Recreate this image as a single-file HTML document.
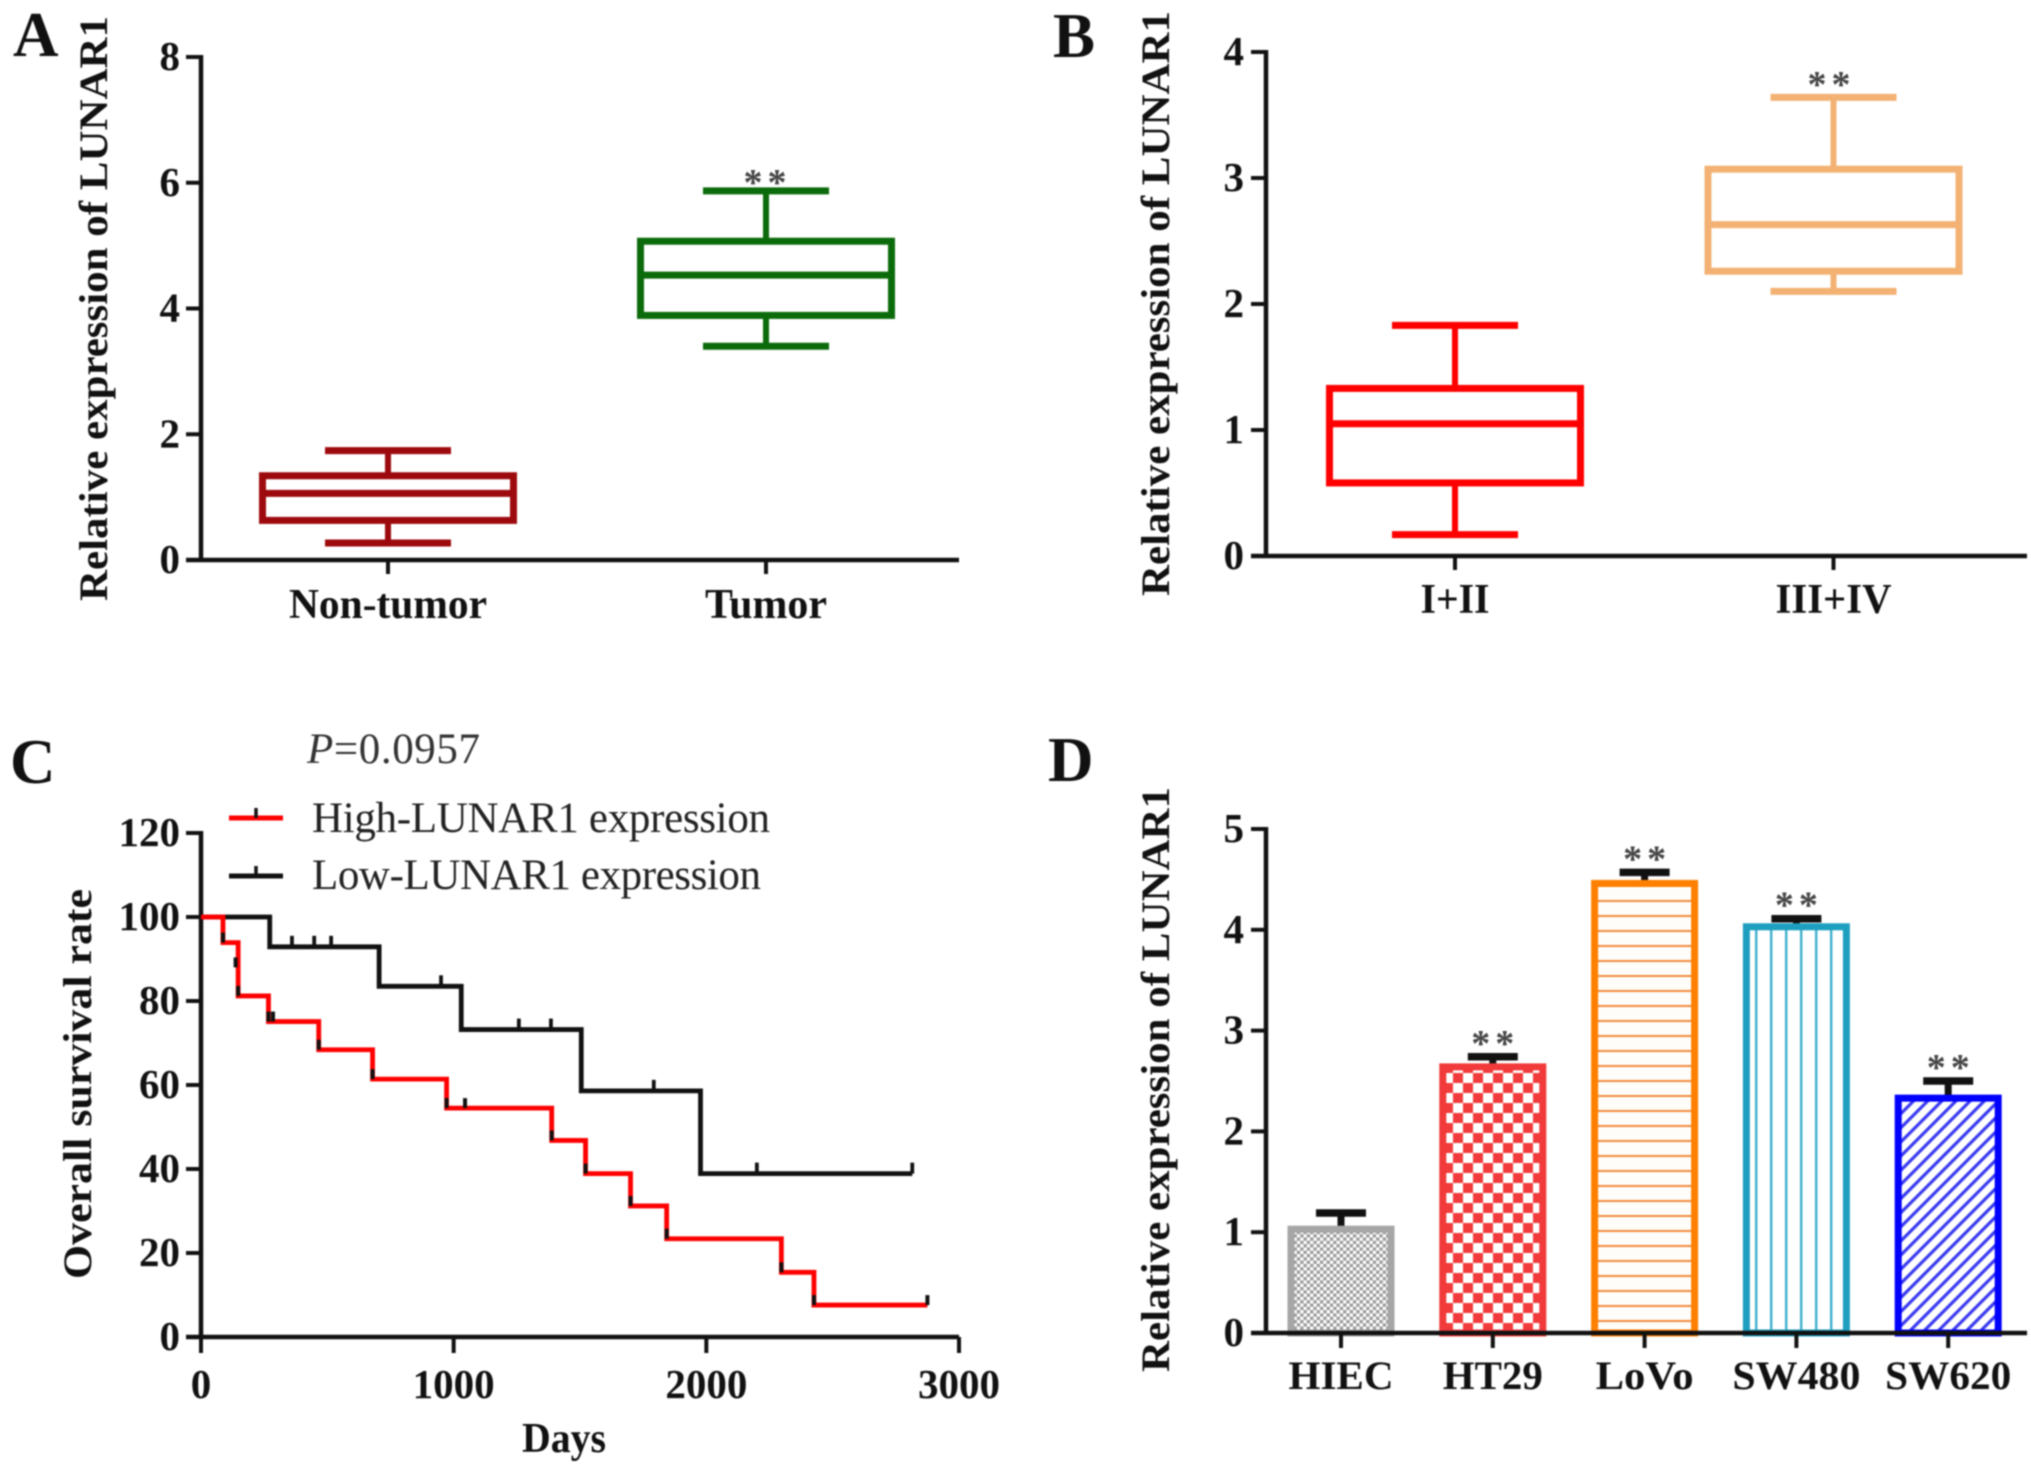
<!DOCTYPE html>
<html lang="en">
<head>
<meta charset="utf-8">
<title>LUNAR1 expression figure</title>
<style>
html,body{margin:0;padding:0;background:#fff;}
#figure{display:block;width:2031px;height:1469px;background:#fff;filter:blur(0.7px);}
text{font-family:"Liberation Serif",serif;fill:#111;}
</style>
</head>
<body>
<svg id="figure" xmlns="http://www.w3.org/2000/svg" width="2031" height="1469" viewBox="0 0 2031 1469">
  <defs>
    <pattern id="pat-dots" patternUnits="userSpaceOnUse" width="6.6" height="6.6">
      <rect width="6.6" height="6.6" fill="#fff"/>
      <rect width="3.3" height="3.3" fill="#9a9a9a"/>
      <rect x="3.3" y="3.3" width="3.3" height="3.3" fill="#9a9a9a"/>
    </pattern>
    <pattern id="pat-check" patternUnits="userSpaceOnUse" width="20" height="20" x="3" y="3">
      <rect width="20" height="20" fill="#fff"/>
      <rect width="10" height="10" fill="#f23a3a"/>
      <rect x="10" y="10" width="10" height="10" fill="#f23a3a"/>
    </pattern>
    <pattern id="pat-hlines" patternUnits="userSpaceOnUse" width="15" height="15">
      <rect width="15" height="15" fill="#fffdfa"/>
      <rect width="15" height="2" fill="#f08a3c"/>
    </pattern>
    <pattern id="pat-vlines" patternUnits="userSpaceOnUse" width="15" height="15">
      <rect width="15" height="15" fill="#fff"/>
      <rect width="2.4" height="15" fill="#3fb0cc"/>
    </pattern>
    <pattern id="pat-diag" patternUnits="userSpaceOnUse" width="10" height="10" patternTransform="rotate(45)">
      <rect width="10" height="10" fill="#fff"/>
      <rect width="3.2" height="10" fill="#3a3af0"/>
    </pattern>
  </defs>
  <rect width="2031" height="1469" fill="#fff"/>
  <g id="panel-a"></g>
  <g id="panel-b"></g>
  <g id="panel-c"></g>
  <g id="panel-d"></g>
</svg>
<script>
// Panel A data
const aCategories = ['Non-tumor', 'Tumor'];
const aWhiskerHigh = [1.74, 5.87];
const aQ3 = [1.34, 5.07];
const aMedian = [1.06, 4.53];
const aQ1 = [0.63, 3.89];
const aWhiskerLow = [0.27, 3.40];
const aTicks = [0, 2, 4, 6, 8];

// Panel B data
const bCategories = ['I+II', 'III+IV'];
const bWhiskerHigh = [1.83, 3.64];
const bQ3 = [1.33, 3.07];
const bMedian = [1.05, 2.63];
const bQ1 = [0.58, 2.26];
const bWhiskerLow = [0.17, 2.10];
const bTicks = [0, 1, 2, 3, 4];

// Panel C data
const cHighDropDays = [87, 147, 267, 466, 679, 972, 1388, 1522, 1700, 1843, 2297, 2426];
const cHighLevels = [100, 93.9, 81.2, 75.1, 68.4, 61.4, 54.5, 46.8, 38.9, 31.2, 23.4, 15.4, 7.6];
const cHighEndDay = 2875;
const cHighCensorDays = [87, 137, 147, 267, 285, 466, 679, 972, 1045, 1388, 1522, 1700, 1843, 2297, 2426, 2875];
const cHighCensorLevels = [93.9, 88, 81.2, 75.1, 75.1, 68.4, 61.4, 54.5, 54.5, 46.8, 38.9, 31.2, 23.4, 15.4, 7.6, 7.6];
const cLowDropDays = [272, 705, 1030, 1505, 1977];
const cLowLevels = [100, 92.9, 83.5, 73.2, 58.6, 38.9];
const cLowEndDay = 2815;
const cLowCensorDays = [360, 448, 515, 950, 1258, 1385, 1792, 2200, 2815];
const cLowCensorLevels = [92.9, 92.9, 92.9, 83.5, 73.2, 73.2, 58.6, 38.9, 38.9];
const cYTicks = [0, 20, 40, 60, 80, 100, 120];
const cXTicks = [0, 1000, 2000, 3000];

// Panel D data
const dCategories = ['HIEC', 'HT29', 'LoVo', 'SW480', 'SW620'];
const dValues = [1.03, 2.64, 4.46, 4.03, 2.33];
const dErrorTops = [1.19, 2.74, 4.57, 4.11, 2.50];
const dTicks = [0, 1, 2, 3, 4, 5];
const dColors = ['#a6a6a6', '#f23a3a', '#ff8000', '#1e9fc0', '#0000ff'];
const dPatterns = ['pat-dots', 'pat-check', 'pat-hlines', 'pat-vlines', 'pat-diag'];

const NS = 'http://www.w3.org/2000/svg';
function svgEl(parent, tag, attrs) {
  const el = document.createElementNS(NS, tag);
  for (const k in attrs) el.setAttribute(k, attrs[k]);
  parent.appendChild(el);
  return el;
}
function linear(d0, d1, r0, r1) {
  return v => r0 + (v - d0) * (r1 - r0) / (d1 - d0);
}
function seg(parent, x1, y1, x2, y2, color, w) {
  return svgEl(parent, 'line', {x1, y1, x2, y2, stroke: color, 'stroke-width': w});
}
function txt(parent, x, y, str, size, opts) {
  const o = opts || {};
  const a = {x, y, 'font-size': size, 'font-weight': o.weight || 'bold'};
  if (o.anchor) a['text-anchor'] = o.anchor;
  if (o.len) { a.textLength = o.len; a.lengthAdjust = o.adjust || 'spacing'; }
  if (o.rotate) a.transform = 'rotate(-90 ' + x + ' ' + y + ')';
  if (o.fill) a.style = 'fill:' + o.fill;
  if (o.spacing) a['letter-spacing'] = o.spacing;
  const t = svgEl(parent, 'text', a);
  t.textContent = str;
  return t;
}
function drawYAxis(g, x, yScale, ticks, top, bottom, labelX, fontSize) {
  const axis = seg(g, x, top - 2, x, bottom + 2, '#111', 4.5);
  
  
  ticks.forEach(v => {
    const tk = seg(g, x - 15, yScale(v), x, yScale(v), '#111', 4);
    
    
    const lb = txt(g, labelX, yScale(v) + 13, String(v), fontSize, {anchor: 'end'});
    
    
  });
}
function drawTitleY(g, x, yBottom, str, len, size) {
  const t = txt(g, x, yBottom, str, size, {rotate: true, len: len, adjust: 'spacingAndGlyphs'});
  
  
}
function drawXBase(g, x0, x1, y) {
  const axis = seg(g, x0, y, x1, y, '#111', 4.5);
  
  
}
function drawLetter(g, x, y, str) {
  const t = txt(g, x, y, str, 63);
  
  
}
function drawStars(g, cx, y) {
  const t = txt(g, cx + 2.5, y, '**', 38, {anchor: 'middle', fill: '#444', spacing: '5px'});
  
  
}

function drawBoxes(g, opts) {
  const y = opts.yScale;
  opts.cats.forEach((c, i) => {
    const cx = opts.firstX + i * opts.step;
    const col = opts.colors[i];
    const box = svgEl(g, 'g', {});
    
    
    seg(box, cx, y(opts.hi[i]), cx, y(opts.q3[i]), col, 6);
    seg(box, cx, y(opts.q1[i]), cx, y(opts.lo[i]), col, 6);
    seg(box, cx - 63, y(opts.hi[i]), cx + 63, y(opts.hi[i]), col, 7);
    seg(box, cx - 63, y(opts.lo[i]), cx + 63, y(opts.lo[i]), col, 7);
    svgEl(box, 'rect', {x: cx - 125.5, y: y(opts.q3[i]), width: 251, height: y(opts.q1[i]) - y(opts.q3[i]), fill: 'none', stroke: col, 'stroke-width': 7});
    seg(box, cx - 125.5, y(opts.med[i]), cx + 125.5, y(opts.med[i]), col, 7);
    const tk = seg(g, cx, opts.baseY, cx, opts.baseY + 14, '#111', 4);
    
    
    const lb = txt(g, cx, opts.labelY, c, 42, {anchor: 'middle', len: opts.labelLens[i], adjust: 'spacingAndGlyphs'});
    
    
  });
}

// ---------- Panel A ----------
(function () {
  const g = document.getElementById('panel-a');
  const y = linear(0, 8, 560, 57);
  drawLetter(g, 13, 56, 'A');
  drawYAxis(g, 201, y, aTicks, 57, 560, 180, 41);
  drawXBase(g, 186, 959, 560);
  drawTitleY(g, 107, 601, 'Relative expression of LUNAR1', 585, 40);
  drawBoxes(g, {yScale: y, cats: aCategories, firstX: 388, step: 378, colors: ['#9c0a0e', '#0b6b0b'],
    hi: aWhiskerHigh, q3: aQ3, med: aMedian, q1: aQ1, lo: aWhiskerLow,
    baseY: 560, labelY: 618, labelLens: [198, 122]});
  drawStars(g, 765, 195);
})();

// ---------- Panel B ----------
(function () {
  const g = document.getElementById('panel-b');
  const y = linear(0, 4, 556, 52);
  drawLetter(g, 1053, 57, 'B');
  drawYAxis(g, 1266, y, bTicks, 52, 556, 1244, 41);
  drawXBase(g, 1251, 2027, 556);
  drawTitleY(g, 1169, 596, 'Relative expression of LUNAR1', 585, 40);
  drawBoxes(g, {yScale: y, cats: bCategories, firstX: 1455, step: 378.5, colors: ['#ff0000', '#f3b273'],
    hi: bWhiskerHigh, q3: bQ3, med: bMedian, q1: bQ1, lo: bWhiskerLow,
    baseY: 556, labelY: 613, labelLens: [69, 116]});
  drawStars(g, 1829, 97);
})();

// ---------- Panel C ----------
(function () {
  const g = document.getElementById('panel-c');
  const y = linear(0, 120, 1337, 833);
  const x = linear(0, 3000, 201, 959);
  drawLetter(g, 10, 783, 'C');
  drawYAxis(g, 201, y, cYTicks, 833, 1337, 180, 41);
  drawXBase(g, 186, 959, 1337);
  cXTicks.forEach(v => {
    const tk = seg(g, x(v), 1337, x(v), 1353, '#111', 4);
    
    
    const lb = txt(g, x(v), 1398, String(v), 41, {anchor: 'middle'});
    
    
  });
  drawTitleY(g, 91, 1279, 'Overall survival rate', 390, 40);
  const xt = txt(g, 564, 1452, 'Days', 42, {anchor: 'middle', len: 84, adjust: 'spacingAndGlyphs'});
  
  

  function stepPath(drops, levels, endDay) {
    let d = 'M' + x(0) + ' ' + y(levels[0]);
    drops.forEach((day, i) => {
      d += ' H' + x(day) + ' V' + y(levels[i + 1]);
    });
    return d + ' H' + x(endDay);
  }
  const low = svgEl(g, 'path', {d: stepPath(cLowDropDays, cLowLevels, cLowEndDay), fill: 'none', stroke: '#111', 'stroke-width': 4.8});
  
  
  const high = svgEl(g, 'path', {d: stepPath(cHighDropDays, cHighLevels, cHighEndDay), fill: 'none', stroke: '#ff0000', 'stroke-width': 4.8});
  
  
  cLowCensorDays.forEach((d, i) => {
    const c = seg(g, x(d), y(cLowCensorLevels[i]), x(d), y(cLowCensorLevels[i]) - 11, '#111', 3.8);
    
    
  });
  cHighCensorDays.forEach((d, i) => {
    const c = seg(g, x(d), y(cHighCensorLevels[i]), x(d), y(cHighCensorLevels[i]) - 10, '#111', 4);
    
    
  });

  const pv = svgEl(g, 'text', {x: 307, y: 763, 'font-size': 43, textLength: 173, lengthAdjust: 'spacing', style: 'fill:#333'});
  
  
  const pItalic = svgEl(pv, 'tspan', {'font-style': 'italic'});
  pItalic.textContent = 'P';
  const pRest = svgEl(pv, 'tspan', {});
  pRest.textContent = '=0.0957';

  const lg1 = svgEl(g, 'g', {});
  
  
  seg(lg1, 229, 818, 283, 818, '#ff0000', 5);
  seg(lg1, 256, 818, 256, 808, '#111', 3.5);
  txt(lg1, 312, 832, 'High-LUNAR1 expression', 43, {weight: 'normal', len: 458, fill: '#222'});
  const lg2 = svgEl(g, 'g', {});
  
  
  seg(lg2, 229, 876, 283, 876, '#111', 5);
  seg(lg2, 256, 876, 256, 866, '#111', 3.5);
  txt(lg2, 312, 889, 'Low-LUNAR1 expression', 43, {weight: 'normal', len: 449, fill: '#222'});
})();

// ---------- Panel D ----------
(function () {
  const g = document.getElementById('panel-d');
  const y = linear(0, 5, 1333, 829);
  drawLetter(g, 1048, 781, 'D');
  drawTitleY(g, 1169, 1372, 'Relative expression of LUNAR1', 585, 40);
  const labelLens = [105, 100, 98, 128, 126];
  dCategories.forEach((c, i) => {
    const cx = 1341 + i * 151.8;
    const err = svgEl(g, 'g', {});
    
    
    seg(err, cx, y(dValues[i]), cx, y(dErrorTops[i]), '#111', 7);
    seg(err, cx - 25, y(dErrorTops[i]), cx + 25, y(dErrorTops[i]), '#111', 7.5);
    const bar = svgEl(g, 'rect', {x: cx - 50, y: y(dValues[i]), width: 100, height: y(0) - y(dValues[i]), fill: 'url(#' + dPatterns[i] + ')', stroke: dColors[i], 'stroke-width': 7});
    
    
    const tk = seg(g, cx, 1333, cx, 1348, '#111', 4);
    
    
    const lb = txt(g, cx, 1389, c, 40, {anchor: 'middle', len: labelLens[i], adjust: 'spacingAndGlyphs'});
    
    
    if (i > 0) drawStars(g, cx, y(dErrorTops[i]) - 1);
  });
  drawYAxis(g, 1266, y, dTicks, 829, 1333, 1244, 41);
  drawXBase(g, 1251, 2027, 1333);
})();
</script>
</body>
</html>
